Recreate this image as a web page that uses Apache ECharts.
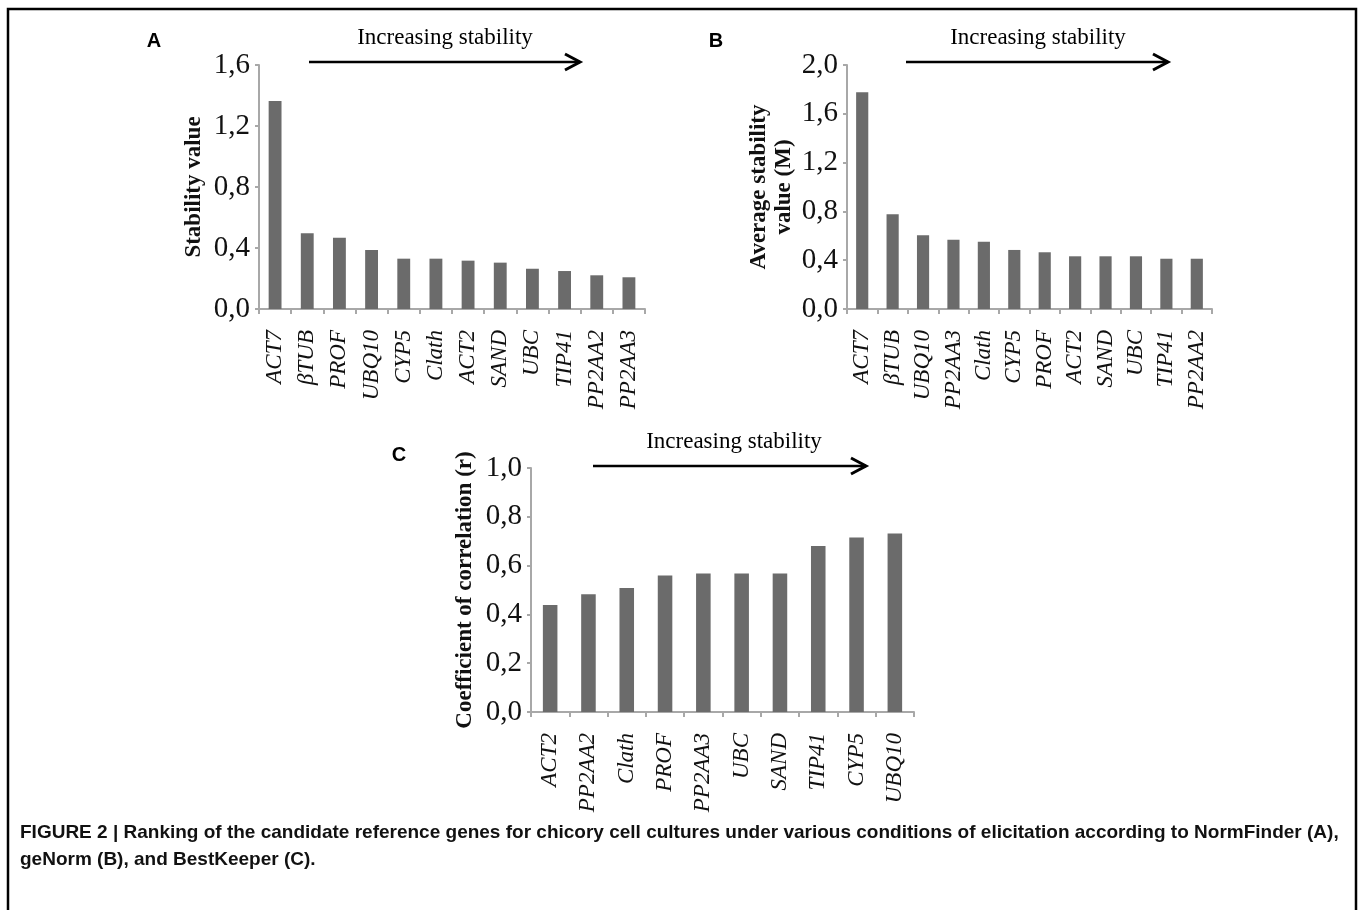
<!DOCTYPE html>
<html>
<head>
<meta charset="utf-8">
<script src="https://cdn.jsdelivr.net/npm/echarts@6/dist/echarts.min.js"></script>
<style>
html,body{margin:0;padding:0;background:#fff;}
#chart{width:1358px;height:910px;}
</style>
</head>
<body>
<div id="chart"></div>
<script>
// Panel A: NormFinder
const catsA = ['ACT7','βTUB','PROF','UBQ10','CYP5','Clath','ACT2','SAND','UBC','TIP41','PP2AA2','PP2AA3'];
const valsA = [1.364,0.496,0.468,0.387,0.330,0.330,0.317,0.304,0.264,0.249,0.221,0.208];
const ticksA = {min:0, max:1.6, interval:0.4};
// Panel B: geNorm
const catsB = ['ACT7','βTUB','UBQ10','PP2AA3','Clath','CYP5','PROF','ACT2','SAND','UBC','TIP41','PP2AA2'];
const valsB = [1.776,0.776,0.604,0.568,0.552,0.484,0.465,0.432,0.432,0.432,0.412,0.412];
const ticksB = {min:0, max:2.0, interval:0.4};
// Panel C: BestKeeper
const catsC = ['ACT2','PP2AA2','Clath','PROF','PP2AA3','UBC','SAND','TIP41','CYP5','UBQ10'];
const valsC = [0.439,0.483,0.508,0.559,0.568,0.568,0.568,0.680,0.715,0.732];
const ticksC = {min:0, max:1.0, interval:0.2};

const nameA = 'Stability value';
const nameB = 'Average stability\nvalue (M)';
const nameC = 'Coefficient of correlation (r)';
const arrowText = 'Increasing stability';
const caption1 = 'FIGURE 2 | Ranking of the candidate reference genes for chicory cell cultures under various conditions of elicitation according to NormFinder (A),';
const caption2 = 'geNorm (B), and BestKeeper (C).';

const SERIF = 'Liberation Serif';
const SANS = 'Liberation Sans';
const AXIS_COLOR = '#a8a8a8';
const BAR_COLOR = '#6b6b6b';

function xAxis(idx, cats){
  return {
    type:'category', gridIndex:idx, data:cats,
    axisLine:{lineStyle:{color:AXIS_COLOR,width:2}},
    axisTick:{show:true,length:5,lineStyle:{color:AXIS_COLOR,width:2}},
    axisLabel:{rotate:90,margin:21,color:'#111',fontFamily:SERIF,fontStyle:'italic',fontSize:23,interval:0}
  };
}
function yAxis(idx, t, name, gap){
  return {
    type:'value', gridIndex:idx, min:t.min, max:t.max, interval:t.interval,
    name:name, nameLocation:'middle', nameGap:gap,
    nameTextStyle:{color:'#111',fontFamily:SERIF,fontWeight:'bold',fontSize:23,lineHeight:25},
    axisLine:{show:true,lineStyle:{color:AXIS_COLOR,width:2}},
    axisTick:{show:true,length:4,lineStyle:{color:AXIS_COLOR,width:2}},
    splitLine:{show:false},
    axisLabel:{margin:9,color:'#111',fontFamily:SERIF,fontSize:29,
      formatter:v=>v.toFixed(1).replace('.',',')}
  };
}
function arrow(x1,x2,y){
  return [
    {type:'line',shape:{x1:x1,y1:y,x2:x2,y2:y},style:{stroke:'#000',lineWidth:2.4}},
    {type:'polyline',shape:{points:[[x2-15,y-8],[x2,y],[x2-15,y+8]]},style:{stroke:'#000',lineWidth:3,fill:null}}
  ];
}
function label(text,x,y,size,font,weight,style){
  return {type:'text',x:x,y:y,style:{text:text,fill:'#000',font:(style||'normal')+' '+weight+' '+size+'px "'+font+'"',textAlign:'center',textVerticalAlign:'middle'}};
}

const chart = echarts.init(document.getElementById('chart'));
chart.setOption({
  backgroundColor:'#fff',
  animation:false,
  grid:[
    {left:259, top:65, width:386, height:244},
    {left:847, top:65, width:365, height:244},
    {left:531, top:468, width:383, height:244}
  ],
  xAxis:[xAxis(0,catsA), xAxis(1,catsB), xAxis(2,catsC)],
  yAxis:[yAxis(0,ticksA,nameA,52), yAxis(1,ticksB,nameB,50), yAxis(2,ticksC,nameC,53)],
  series:[
    {type:'bar',xAxisIndex:0,yAxisIndex:0,data:valsA,barCategoryGap:'60%',itemStyle:{color:BAR_COLOR}},
    {type:'bar',xAxisIndex:1,yAxisIndex:1,data:valsB,barCategoryGap:'60%',itemStyle:{color:BAR_COLOR}},
    {type:'bar',xAxisIndex:2,yAxisIndex:2,data:valsC,barCategoryGap:'62%',itemStyle:{color:BAR_COLOR}}
  ],
  graphic:[
    {type:'rect',shape:{x:8,y:9,width:1348,height:940},style:{stroke:'#000',lineWidth:2.5,fill:null}},
    label('A',154,41,20,SANS,'bold'),
    label('B',716,41,20,SANS,'bold'),
    label('C',399,455,20,SANS,'bold'),
    label(arrowText,445,38,23,SERIF,'normal'),
    label(arrowText,1038,38,23,SERIF,'normal'),
    label(arrowText,734,442,23,SERIF,'normal'),
    ...arrow(309,580,62),
    ...arrow(906,1168,62),
    ...arrow(593,866,466),
    {type:'text',x:20,y:833,style:{text:caption1,fill:'#111',font:'bold 19px "Liberation Sans"',textAlign:'left',textVerticalAlign:'middle'}},
    {type:'text',x:20,y:860,style:{text:caption2,fill:'#111',font:'bold 19px "Liberation Sans"',textAlign:'left',textVerticalAlign:'middle'}}
  ]
});
</script>
</body>
</html>
